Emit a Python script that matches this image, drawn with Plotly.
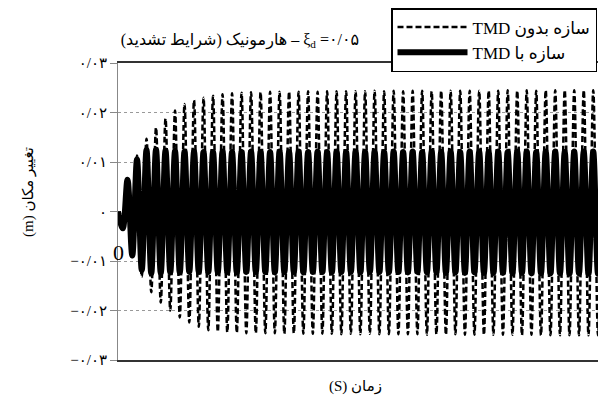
import plotly.graph_objects as go

# ---- data (alternating extrema of the response) ----
time_step = 0.1  # s between successive extrema

without_tmd = [
    0.0, -0.0035, 0.0065, -0.0092, 0.0113, -0.0132, 0.0147, -0.0163, 0.0170, -0.0184,
    0.0188, -0.0200, 0.0204, -0.0214, 0.0217, -0.0224, 0.0225, -0.0233, 0.0230, -0.0240,
    0.0234, -0.0243, 0.0237, -0.0244, 0.0239, -0.0245, 0.0240, -0.0246, 0.0241, -0.0246,
    0.0241, -0.0246, 0.0242, -0.0246, 0.0242, -0.0247, 0.0242, -0.0246, 0.0242, -0.0247,
    0.0243, -0.0247, 0.0242, -0.0247, 0.0243, -0.0247, 0.0243, -0.0248, 0.0243, -0.0247,
    0.0243, -0.0248, 0.0243, -0.0247, 0.0244, -0.0248, 0.0243, -0.0248, 0.0244, -0.0248,
    0.0243, -0.0248, 0.0244, -0.0248, 0.0244, -0.0249, 0.0243, -0.0248, 0.0244, -0.0249,
    0.0244, -0.0248, 0.0244, -0.0249, 0.0244, -0.0249, 0.0244, -0.0249, 0.0244, -0.0249,
    0.0244, -0.0249, 0.0245, -0.0249, 0.0244, -0.0250, 0.0245, -0.0249, 0.0244, -0.0250,
    0.0245, -0.0250, 0.0245, -0.0250, 0.0245, -0.0250, 0.0245, -0.0250, 0.0245, -0.0250,
    0.0245, -0.0250, 0.0245,
]

with_tmd = [
    0.0, -0.0034, 0.0064, -0.0089, 0.0105, -0.0118, 0.0124, -0.0125, 0.0125, -0.0124,
    0.0123, -0.0123, 0.0122, -0.0123, 0.0121, -0.0122, 0.0121, -0.0122, 0.0120, -0.0122,
    0.0120, -0.0122, 0.0121, -0.0122, 0.0120, -0.0123, 0.0120, -0.0122, 0.0121, -0.0122,
    0.0120, -0.0122, 0.0120, -0.0123, 0.0121, -0.0122, 0.0120, -0.0122, 0.0121, -0.0123,
    0.0120, -0.0122, 0.0121, -0.0122, 0.0120, -0.0123, 0.0121, -0.0122, 0.0120, -0.0122,
    0.0121, -0.0123, 0.0120, -0.0122, 0.0121, -0.0122, 0.0120, -0.0123, 0.0121, -0.0122,
    0.0120, -0.0123, 0.0121, -0.0122, 0.0120, -0.0123, 0.0121, -0.0123, 0.0120, -0.0124,
    0.0121, -0.0123, 0.0120, -0.0124, 0.0121, -0.0123, 0.0121, -0.0124, 0.0120, -0.0124,
    0.0121, -0.0124, 0.0120, -0.0125, 0.0121, -0.0124, 0.0121, -0.0125, 0.0120, -0.0125,
    0.0121, -0.0125, 0.0121, -0.0125, 0.0120, -0.0126, 0.0121, -0.0125, 0.0121, -0.0126,
    0.0121, -0.0126, 0.0121,
]

time_s = [k * time_step for k in range(len(without_tmd))]

y_tick_vals = [0.03, 0.02, 0.01, 0.0, -0.01, -0.02, -0.03]
y_tick_text = ["۰/۰۳", "۰/۰۲", "۰/۰۱", "۰", "−۰/۰۱", "−۰/۰۲", "−۰/۰۳"]

RLE, PDF = "\u202b", "\u202c"
name_without = RLE + "سازه بدون TMD" + PDF
name_with = RLE + "سازه با TMD" + PDF
title_text = RLE + "ξ<sub>d</sub> =۰/۰۵ – هارمونیک (شرایط تشدید)" + PDF
x_title = RLE + "زمان (S)" + PDF
y_title = RLE + "تغییر مکان (m)" + PDF

FONT = "Liberation Serif, DejaVu Sans, serif"

PLOT_L, PLOT_R, PLOT_T, PLOT_B = 118, 598, 63, 360
PW, PH = PLOT_R - PLOT_L, PLOT_B - PLOT_T

fig = go.Figure()
fig.add_trace(go.Scatter(
    x=time_s, y=without_tmd, mode="lines", name=name_without,
    line=dict(color="black", width=2.5, dash="6px,3px", shape="spline", smoothing=1),
))
fig.add_trace(go.Scatter(
    x=time_s, y=with_tmd, mode="lines", name=name_with,
    line=dict(color="black", width=6, shape="spline", smoothing=1),
))

fig.update_layout(
    width=599, height=401,
    margin=dict(l=PLOT_L, r=599 - PLOT_R, t=PLOT_T, b=401 - PLOT_B, autoexpand=False),
    paper_bgcolor="white", plot_bgcolor="white",
    font=dict(family=FONT, color="black"),
    title=dict(text=title_text, x=240 / 599, xanchor="center", xref="container",
               y=1 - 39 / 401, yanchor="middle", yref="container",
               font=dict(size=16, family=FONT, color="black")),
    showlegend=True,
    legend=dict(
        x=597 / 599, xanchor="right", xref="container",
        y=1 - 8 / 401, yanchor="top", yref="container",
        bgcolor="white", bordercolor="black", borderwidth=1.5,
        font=dict(size=17, family=FONT, color="black"),
        itemwidth=70, tracegroupgap=4,
    ),
    xaxis=dict(
        range=[0, 10.1], showgrid=False, zeroline=False,
        showticklabels=False, ticks="",
        showline=True, linecolor="#333333", linewidth=1.5, mirror=True,
    ),
    yaxis=dict(
        range=[-0.03, 0.03], tickvals=y_tick_vals, ticktext=y_tick_text,
        showgrid=True, gridcolor="#999999", griddash="dot", gridwidth=1,
        zeroline=False, ticks="outside", ticklen=7, tickcolor="#888888",
        showline=True, linecolor="#888888", linewidth=1,
        tickfont=dict(size=15, family=FONT, color="black"),
    ),
)

fig.add_annotation(text=y_title, textangle=-90, xref="paper", yref="paper",
                   x=(28 - PLOT_L) / PW, y=(PLOT_B - 192) / PH, xanchor="center",
                   yanchor="middle", showarrow=False,
                   font=dict(size=15, family=FONT, color="black"))
fig.add_annotation(text=x_title, xref="paper", yref="paper",
                   x=(355 - PLOT_L) / PW, y=(PLOT_B - 386) / PH, xanchor="center",
                   yanchor="middle", showarrow=False,
                   font=dict(size=15, family=FONT, color="black"))
fig.add_annotation(text="0", xref="paper", yref="y", x=0, y=-0.0083,
                   xanchor="center", yanchor="middle", showarrow=False,
                   font=dict(size=22, family=FONT, color="black"))

fig.write_html("out.html")
